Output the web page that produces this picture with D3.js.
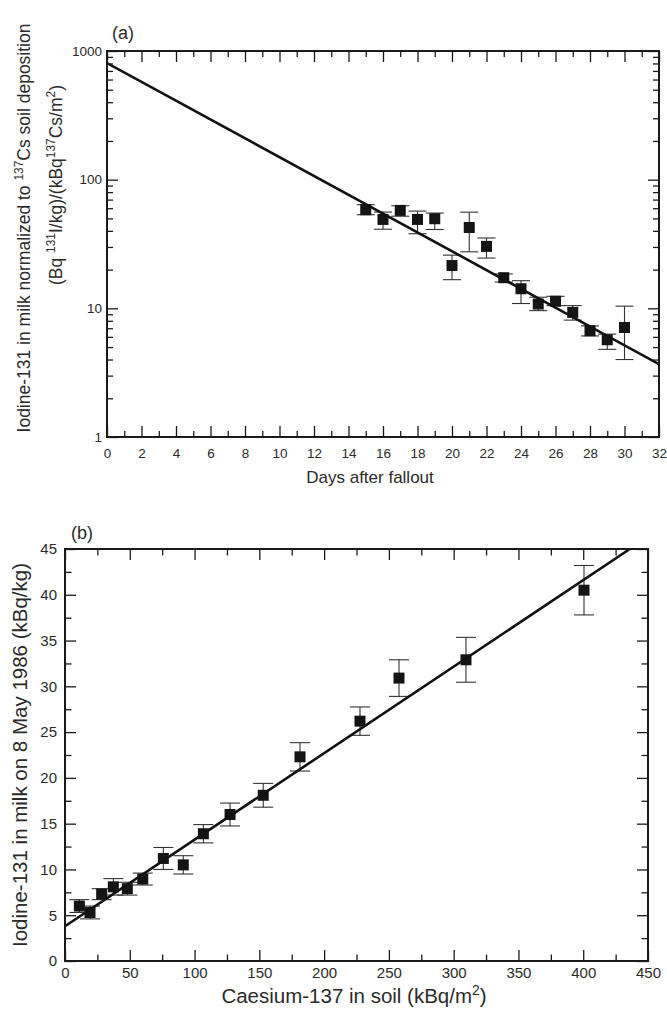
<!DOCTYPE html>
<html><head><meta charset="utf-8">
<script src="https://cdn.jsdelivr.net/npm/d3@7"></script>
<style>
body{margin:0;background:#fff}
svg{display:block;background:#fff}
text{font-family:"Liberation Sans",Arial,Helvetica,sans-serif;fill:#2b2b2b}
</style>
</head><body>
<svg id="c" width="667" height="1011"></svg>
<script>
// ---------- Panel (a) data ----------
const daysA      = [15, 16, 17, 18, 19, 20, 21, 22, 23, 24, 25, 26, 27, 28, 29, 30];
const i131NormA  = [58.4, 49.1, 57.7, 49.1, 49.7, 21.5, 42.5, 30.3, 17.3, 14.2, 10.8, 11.35, 9.3, 6.7, 5.7, 7.1];
const errLowA    = [53.4, 41.2, 52.0, 38.0, 41.0, 16.7, 27.5, 24.6, 16.0, 10.9, 9.6, 10.5, 8.1, 6.1, 4.8, 4.0];
const errHighA   = [63.9, 56.0, 62.7, 57.0, 55.0, 25.9, 55.9, 35.2, 18.5, 16.4, 12.2, 12.4, 10.5, 7.3, 6.3, 10.4];
const fitDaysA   = [0, 32];
const fitValuesA = [806, 3.68];
const xTicksA    = [0, 2, 4, 6, 8, 10, 12, 14, 16, 18, 20, 22, 24, 26, 28, 30, 32];
const yTicksA    = [1, 10, 100, 1000];

// ---------- Panel (b) data ----------
const cs137B     = [11.1, 19.3, 28.3, 37.3, 48.1, 60, 75.9, 91.3, 106.8, 127.4, 153, 181.4, 227.7, 257.8, 309.5, 400.6];
const i131B      = [6.0, 5.3, 7.3, 8.1, 7.9, 8.95, 11.2, 10.5, 13.9, 16.0, 18.1, 22.3, 26.2, 30.9, 32.9, 40.5];
const errLowB    = [5.3, 4.6, 6.7, 7.2, 7.2, 8.3, 10.0, 9.5, 12.9, 14.75, 16.8, 20.75, 24.65, 28.9, 30.45, 37.8];
const errHighB   = [6.7, 6.0, 7.9, 9.0, 8.6, 9.6, 12.4, 11.5, 14.9, 17.25, 19.4, 23.85, 27.75, 32.9, 35.35, 43.2];
const fitCsB     = [0, 436];
const fitI131B   = [3.8, 45];
const xTicksB    = [0, 50, 100, 150, 200, 250, 300, 350, 400, 450];
const yTicksB    = [0, 5, 10, 15, 20, 25, 30, 35, 40, 45];

const svg = d3.select("#c");
const INK = "#1a1a1a";

function rich(sel, parts, size) {
  const supSize = size * 0.68, shift = size * 0.38;
  parts.forEach(p => {
    const t = sel.append("tspan").text(p[0]);
    if (p[1]) t.attr("font-size", supSize).attr("dy", -shift);
    else if (p[2]) t.attr("dy", shift);
  });
}

function frameAxes(g, x, y, major, minor, cfg) {
  const [x0, x1] = x.range(), [y0, y1] = y.range();
  const styleTicks = s => { s.select(".domain").remove(); s.selectAll(".tick line").attr("stroke", INK).attr("stroke-width", 1.3); };
  const styleText = s => s.selectAll("text").attr("font-size", cfg.tick).attr("font-family", null).attr("fill", "#2b2b2b");
  const noLab = () => "";
  g.append("g").attr("transform", `translate(0,${y0})`)
    .call(d3.axisBottom(x).tickValues(major.x).tickSize(-cfg.maj).tickPadding(cfg.padX).tickFormat(cfg.fmtX))
    .call(styleTicks).call(styleText);
  g.append("g").attr("transform", `translate(0,${y0})`)
    .call(d3.axisBottom(x).tickValues(minor.x).tickSize(-cfg.min).tickFormat(noLab)).call(styleTicks);
  g.append("g").attr("transform", `translate(0,${y1})`)
    .call(d3.axisTop(x).tickValues(major.x).tickSize(-cfg.maj).tickFormat(noLab)).call(styleTicks);
  g.append("g").attr("transform", `translate(0,${y1})`)
    .call(d3.axisTop(x).tickValues(minor.x).tickSize(-cfg.min).tickFormat(noLab)).call(styleTicks);
  g.append("g").attr("transform", `translate(${x0},0)`)
    .call(d3.axisLeft(y).tickValues(major.y).tickSize(-cfg.maj).tickPadding(cfg.padY).tickFormat(cfg.fmtY))
    .call(styleTicks).call(styleText);
  g.append("g").attr("transform", `translate(${x0},0)`)
    .call(d3.axisLeft(y).tickValues(minor.y).tickSize(-cfg.min).tickFormat(noLab)).call(styleTicks);
  g.append("g").attr("transform", `translate(${x1},0)`)
    .call(d3.axisRight(y).tickValues(major.y).tickSize(-cfg.maj).tickFormat(noLab)).call(styleTicks);
  g.append("g").attr("transform", `translate(${x1},0)`)
    .call(d3.axisRight(y).tickValues(minor.y).tickSize(-cfg.min).tickFormat(noLab)).call(styleTicks);
  g.append("rect").attr("x", x0).attr("y", y1).attr("width", x1 - x0).attr("height", y0 - y1)
    .attr("fill", "none").attr("stroke", INK).attr("stroke-width", 2);
}

function drawPoints(g, x, y, xs, ys, lo, hi, capW, sq) {
  const data = xs.map((d, i) => ({x: d, y: ys[i], lo: lo[i], hi: hi[i]}));
  const eb = g.append("g").attr("stroke", "#333").attr("stroke-width", 1.1);
  eb.selectAll(".v").data(data).join("line")
    .attr("x1", d => x(d.x)).attr("x2", d => x(d.x)).attr("y1", d => y(d.lo)).attr("y2", d => y(d.hi));
  eb.selectAll(".lo").data(data).join("line")
    .attr("x1", d => x(d.x) - capW / 2).attr("x2", d => x(d.x) + capW / 2).attr("y1", d => y(d.lo)).attr("y2", d => y(d.lo));
  eb.selectAll(".hi").data(data).join("line")
    .attr("x1", d => x(d.x) - capW / 2).attr("x2", d => x(d.x) + capW / 2).attr("y1", d => y(d.hi)).attr("y2", d => y(d.hi));
  g.append("g").selectAll("rect").data(data).join("rect")
    .attr("x", d => x(d.x) - sq / 2).attr("y", d => y(d.y) - sq / 2)
    .attr("width", sq).attr("height", sq).attr("fill", "#141414");
}

// ================= Panel (a) =================
const xA = d3.scaleLinear().domain([0, 32]).range([107, 659]);
const yA = d3.scaleLog().domain([1, 1000]).range([437, 51]);
const gA = svg.append("g");
svg.append("clipPath").attr("id", "clipA").append("rect").attr("x", 107).attr("y", 51).attr("width", 552).attr("height", 386);

const minorXA = d3.range(1, 32, 2);
const minorYA = [];
[1, 10, 100].forEach(b => { for (let k = 2; k <= 9; k++) minorYA.push(b * k); });

drawPoints(gA, xA, yA, daysA, i131NormA, errLowA, errHighA, 18, 11);
gA.append("path").datum(d3.zip(fitDaysA, fitValuesA)).attr("clip-path", "url(#clipA)")
  .attr("d", d3.line().x(d => xA(d[0])).y(d => yA(d[1])))
  .attr("fill", "none").attr("stroke", "#111").attr("stroke-width", 2.6);

frameAxes(gA, xA, yA, {x: xTicksA, y: yTicksA}, {x: minorXA, y: minorYA},
  {maj: 11, min: 6, padX: 11, padY: 5, tick: 13.5, fmtX: d3.format("d"), fmtY: d3.format("d")});

gA.append("text").attr("x", 112).attr("y", 39).attr("font-size", 18).text("(a)");
gA.append("text").attr("x", 370).attr("y", 483).attr("text-anchor", "middle").attr("font-size", 17).text("Days after fallout");

const tA1 = gA.append("text").attr("transform", "translate(30,228) rotate(-90)").attr("text-anchor", "middle").attr("font-size", 17.5);
rich(tA1, [["Iodine-131 in milk normalized to "], ["137", true], ["Cs soil deposition", false, true]], 17.5);
const tA2 = gA.append("text").attr("transform", "translate(62,185) rotate(-90)").attr("text-anchor", "middle").attr("font-size", 17.5);
rich(tA2, [["(Bq "], ["131", true], ["I/kg)/(kBq", false, true], ["137", true], ["Cs/m", false, true], ["2", true], [")", false, true]], 17.5);

// ================= Panel (b) =================
const xB = d3.scaleLinear().domain([0, 450]).range([65, 648]);
const yB = d3.scaleLinear().domain([0, 45]).range([961, 549]);
const gB = svg.append("g");
svg.append("clipPath").attr("id", "clipB").append("rect").attr("x", 65).attr("y", 549).attr("width", 583).attr("height", 412);

const minorXB = d3.range(25, 450, 50);
const minorYB = d3.range(2.5, 45, 5);

drawPoints(gB, xB, yB, cs137B, i131B, errLowB, errHighB, 20, 11);
gB.append("path").datum(d3.zip(fitCsB, fitI131B)).attr("clip-path", "url(#clipB)")
  .attr("d", d3.line().x(d => xB(d[0])).y(d => yB(d[1])))
  .attr("fill", "none").attr("stroke", "#111").attr("stroke-width", 2.6);

frameAxes(gB, xB, yB, {x: xTicksB, y: yTicksB}, {x: minorXB, y: minorYB},
  {maj: 11, min: 6.5, padX: 6, padY: 8, tick: 15, fmtX: d3.format("d"), fmtY: d3.format("d")});

gB.append("text").attr("x", 71).attr("y", 539).attr("font-size", 18).text("(b)");
const tB1 = gB.append("text").attr("x", 354).attr("y", 1003).attr("text-anchor", "middle").attr("font-size", 20.5);
rich(tB1, [["Caesium-137 in soil (kBq/m"], ["2", true], [")", false, true]], 20.5);
gB.append("text").attr("transform", "translate(27,755) rotate(-90)").attr("text-anchor", "middle").attr("font-size", 20.5)
  .text("Iodine-131 in milk on 8 May 1986 (kBq/kg)");
</script>
</body></html>
